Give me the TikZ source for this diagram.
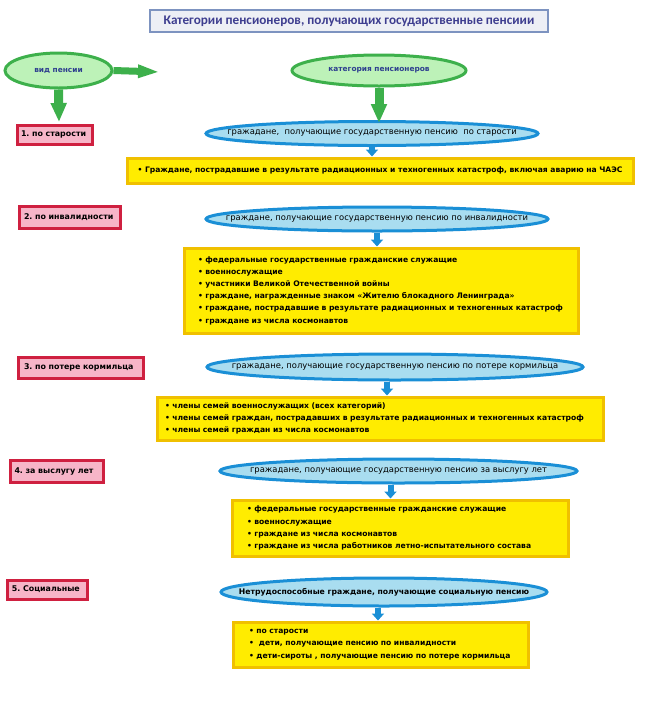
\documentclass[tikz,border=0pt]{standalone}
\usepackage{fontspec}
\setmainfont{DejaVu Sans}
\newfontfamily\titlefont{Carlito}
\usetikzlibrary{arrows.meta,shapes.geometric}
\frenchspacing
\definecolor{gborder}{HTML}{3DB04B}
\definecolor{gfill}{HTML}{BDF2B8}
\definecolor{gtext}{HTML}{2E3F8F}
\definecolor{bborder}{HTML}{1A8FD6}
\definecolor{bfill}{HTML}{A9DDF0}
\definecolor{yfill}{HTML}{FFEC00}
\definecolor{yborder}{HTML}{F0C000}
\definecolor{rfill}{HTML}{F7B5C8}
\definecolor{rborder}{HTML}{CF2040}
\definecolor{tfill}{HTML}{EDEFF5}
\definecolor{tborder}{HTML}{7D93C0}
\definecolor{ttext}{HTML}{3D3D8F}
\newcommand\yline[1]{\mbox{#1}}
\tikzset{
  titlebox/.style={draw=tborder, line width=2.5pt, fill=tfill, text=ttext, inner sep=0pt,
    font=\titlefont\bfseries\fontsize{13.2}{15}\selectfont},
  gell/.style={ellipse, draw=gborder, line width=3pt, fill=gfill, text=gtext, inner sep=0pt,
    font=\bfseries\fontsize{7.4}{9}\selectfont},
  bell/.style={ellipse, draw=bborder, line width=3pt, fill=bfill, text=black, inner sep=0pt,
    font=\fontsize{8.4}{10}\selectfont},
  rbox/.style={draw=rborder, line width=3pt, fill=rfill, text=black, inner sep=0pt,
    font=\bfseries\fontsize{7.9}{9}\selectfont},
  ybox/.style={draw=yborder, line width=3pt, fill=yfill, text=black, inner ysep=0pt,
    align=left, font=\bfseries\fontsize{7.6}{12.2}\selectfont},
  garrowR/.style={draw=gborder, line width=7pt, -{Triangle[width=12pt,length=22pt]}},
  garrowD/.style={draw=gborder, line width=9pt, -{Triangle[width=15pt,length=19pt]}},
  barrow/.style={draw=bborder, line width=6pt, -{Triangle[width=12pt,length=7pt]}},
}
\begin{document}
\begin{tikzpicture}[x=1pt,y=-1pt]
\useasboundingbox (0,0) rectangle (659,705);
\fill[white] (0,0) rectangle (659,705);

\node[titlebox, minimum width=398pt, minimum height=22pt] (title) at (349,21)
  {Категории пенсионеров, получающих государственные пенсиии};

\node[gell, minimum width=107pt, minimum height=35pt] (vid) at (58.5,70.5) {\makebox[0pt]{вид пенсии}};
\node[gell, minimum width=174pt, minimum height=31pt] (kat) at (379,70.5) {\makebox[0pt]{категория пенсионеров}};
\coordinate (vidR) at (160,72);
\coordinate (vidD) at (59,122);

% red boxes
\node[rbox, minimum width=75pt, minimum height=19pt, text width=67pt, align=left] (r1) at (54.5,134.5) {1. по старости};
\node[rbox, minimum width=101pt, minimum height=22pt, text width=91pt, align=left] (r2) at (69.5,217) {2. по инвалидности};
\node[rbox, minimum width=125pt, minimum height=21pt, text width=113pt, align=left] (r3) at (80.5,367.5) {3. по потере кормильца};
\node[rbox, minimum width=93pt, minimum height=22pt, text width=84pt, align=left] (r4) at (56.5,471) {4. за выслугу лет};
\node[rbox, minimum width=80pt, minimum height=19pt, text width=70pt, align=left] (r5) at (47,589.5) {5. Социальные};

% blue ellipses
\node[bell, minimum width=332pt, minimum height=24pt] (b1) at (372,133.5)
  {\makebox[0pt]{гражадане,\ \ получающие государственную пенсию\ \ по старости}};
\node[bell, minimum width=342pt, minimum height=24pt] (b2) at (377,219)
  {\makebox[0pt]{граждане, получающие государственную пенсию по инвалидности}};
\node[bell, minimum width=376pt, minimum height=26pt] (b3) at (395,367)
  {\makebox[0pt]{гражадане, получающие государственную пенсию по потере кормильца}};
\node[bell, minimum width=357pt, minimum height=24pt] (b4) at (398.5,471)
  {\makebox[0pt]{гражадане, получающие государственную пенсию за выслугу лет}};
\node[bell, minimum width=326pt, minimum height=28pt, font=\bfseries\fontsize{7.7}{10}\selectfont] (b5) at (384,592)
  {\makebox[0pt]{Нетрудоспособные граждане, получающие социальную пенсию}};

% yellow boxes
\node[ybox, minimum width=506pt, minimum height=25pt, align=center, inner xsep=0pt] (y1) at (380,170.5)
  {• Граждане, пострадавшие в результате радиационных и техногенных катастроф, включая аварию на ЧАЭС};
\node[ybox, minimum height=85pt, inner xsep=14pt, text width=366pt] (y2) at (381,290.5)
  {\yline{• федеральные государственные гражданские служащие}\\
   \yline{• военнослужащие}\\
   \yline{• участники Великой Отечественной войны}\\
   \yline{• граждане, награжденные знаком «Жителю блокадного Ленинграда»}\\
   \yline{• граждане, пострадавшие в результате радиационных и техногенных катастроф}\\
   \yline{• граждане из числа космонавтов}};
\node[ybox, minimum height=43pt, inner xsep=8pt, text width=430pt] (y3) at (380,418.5)
  {\yline{• члены семей военнослужащих (всех категорий)}\\
   \yline{• члены семей граждан, пострадавших в результате радиационных и техногенных катастроф}\\
   \yline{• члены семей граждан из числа космонавтов}};
\node[ybox, minimum height=56pt, inner xsep=15pt, text width=306pt] (y4) at (400,528)
  {\yline{• федеральные государственные гражданские служащие}\\
   \yline{• военнослужащие}\\
   \yline{• граждане из числа космонавтов}\\
   \yline{• граждане из числа работников летно-испытательного состава}};
\node[ybox, minimum height=45pt, inner xsep=16pt, text width=263pt] (y5) at (380.5,644.5)
  {\yline{• по старости}\\
   \yline{•\ \ дети, получающие пенсию по инвалидности}\\
   \yline{• дети-сироты , получающие пенсию по потере кормильца}};

% green arrows
\draw[garrowR] (vid.east) -- (vidR);
\draw[garrowD] (vid.south) -- (vidD);
\draw[garrowD] (kat.south) -- ([yshift=-3pt]kat.south |- b1.north);

% blue arrows
\draw[barrow] (b1.south) -- (b1.south |- y1.north);
\draw[barrow] (b2.south) -- (b2.south |- y2.north);
\draw[barrow] ([xshift=-8pt]b3.south) -- ([xshift=-8pt]b3.south |- y3.north);
\draw[barrow] ([xshift=-8pt]b4.south) -- ([xshift=-8pt]b4.south |- y4.north);
\draw[barrow] ([xshift=-6pt]b5.south) -- ([xshift=-6pt]b5.south |- y5.north);
\end{tikzpicture}
\end{document}
